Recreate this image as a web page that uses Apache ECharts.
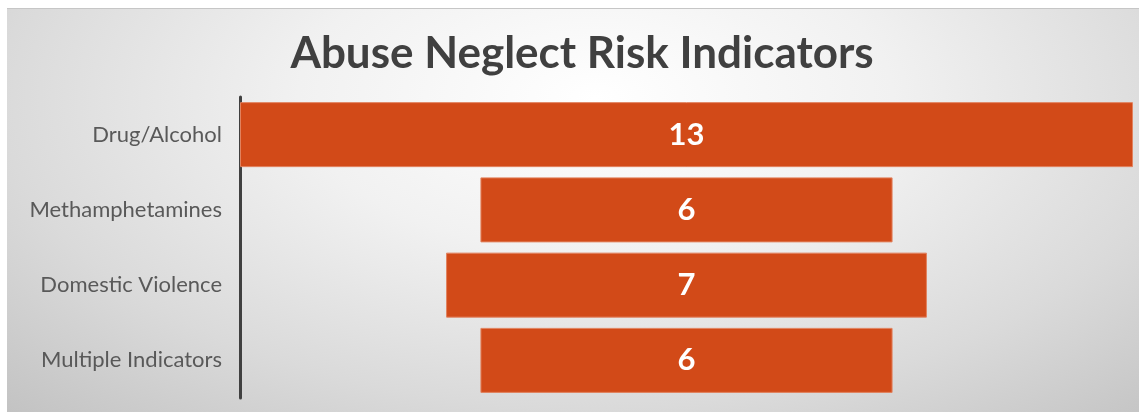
<!DOCTYPE html>
<html><head><meta charset="utf-8">
<script src="https://cdn.jsdelivr.net/npm/echarts@6/dist/echarts.min.js"></script>
<style>
html,body{margin:0;padding:0;background:#fff;width:1139px;height:412px;overflow:hidden;}
#bg{position:absolute;left:7px;top:8px;width:1132px;height:403px;border-top:1px solid #c6c6c6;
background:radial-gradient(ellipse 75% 110% at 52% 22%, #ffffff 0%, #f1f1f1 35%, #dadada 70%, #c2c2c2 100%);}
#chart{position:absolute;left:0;top:0;width:1139px;height:412px;}
</style></head>
<body><div id="bg"></div><div id="chart"></div>
<script>
const categories = ["Drug/Alcohol", "Methamphetamines", "Domestic Violence", "Multiple Indicators"];
const values = [13, 6, 7, 6];
const maxValue = 13;
const titleText = "Abuse Neglect Risk Indicators";

const offsets = values.map(v => (maxValue - v) / 2);
const chart = echarts.init(document.getElementById('chart'), null, {renderer: 'canvas'});
chart.setOption({
  backgroundColor: 'transparent',
  animation: false,
  title: {
    text: titleText, left: 577, textAlign: 'center', top: 27,
    textStyle: {fontFamily: 'Lato', fontWeight: 'bold', fontSize: 44, color: '#404040'}
  },
  grid: {left: 240, right: 6, top: 97, bottom: 14, containLabel: false},
  xAxis: {type: 'value', min: 0, max: maxValue, show: false},
  yAxis: {
    type: 'category', data: categories, inverse: true,
    axisLine: {show: true, lineStyle: {color: '#404040', width: 3}},
    axisTick: {show: false},
    axisLabel: {fontFamily: 'Lato', fontSize: 22, color: '#595959', margin: 18}
  },
  series: [
    {type: 'bar', stack: 's', data: offsets, barWidth: 65, itemStyle: {color: 'transparent'}, silent: true},
    {type: 'bar', stack: 's', data: values, barWidth: 65,
     itemStyle: {color: '#D24A18', borderColor: '#E2825E', borderWidth: 1},
     label: {show: true, position: 'inside', color: '#ffffff', fontFamily: 'Lato', fontWeight: 'bold', fontSize: 31}}
  ]
});
</script></body></html>
